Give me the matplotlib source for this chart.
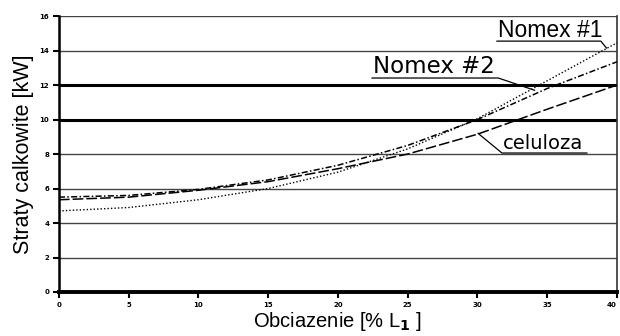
import matplotlib
matplotlib.use("Agg")
import matplotlib.pyplot as plt
import numpy as np

# load [% L1] and total losses [kW]
LOAD     = [0, 5, 10, 15, 20, 25, 30, 35, 40]
NOMEX_1  = [4.7, 4.9, 5.35, 6.0, 6.95, 8.3, 10.05, 12.25, 14.45]
NOMEX_2  = [5.5, 5.6, 5.95, 6.5, 7.35, 8.5, 10.0, 11.8, 13.35]
CELULOZA = [5.35, 5.5, 5.9, 6.4, 7.15, 8.0, 9.15, 10.6, 12.0]

X_TICKS = [0, 5, 10, 15, 20, 25, 30, 35, 40]
Y_TICKS = [0, 2, 4, 6, 8, 10, 12, 14, 16]
THICK_GRID = [10, 12]

FONT = ["Liberation Sans", "DejaVu Sans"]

fig = plt.figure(figsize=(6.2, 3.36), dpi=100)
ax = fig.add_axes([0.095, 0.131, 0.9, 0.821])

for y in Y_TICKS[1:]:
    lw = 2.2 if y in THICK_GRID else 1.0
    col = "black" if y in THICK_GRID else "#444444"
    ax.axhline(y, color=col, linewidth=lw, zorder=1)

ax.plot(LOAD, NOMEX_1, color="black", linewidth=1.0, linestyle=(0, (1, 1.5)), zorder=3)
ax.plot(LOAD, NOMEX_2, color="black", linewidth=1.1, linestyle=(0, (4, 1.5, 1, 1.5)), zorder=3)
ax.plot(LOAD, CELULOZA, color="black", linewidth=1.1, linestyle=(0, (7, 2)), zorder=3)

# labels: text, underline, leader line to the curve
ax.text(31.45, 14.78, "Nomex #1", fontsize=16.5, family=FONT, ha="left", va="baseline",
        bbox=dict(facecolor="white", edgecolor="none", pad=1.0), zorder=5)
ax.plot([31.4, 38.85, 39.25], [14.55, 14.55, 14.15], color="black", linewidth=0.9, zorder=6)

ax.text(22.5, 12.7, "Nomex #2", fontsize=16.5, family=["DejaVu Sans"], ha="left", va="baseline",
        zorder=5)
ax.plot([22.45, 31.5, 34.1], [12.41, 12.41, 11.7], color="black", linewidth=0.9, zorder=6)

ax.text(31.8, 8.29, "celuloza", fontsize=14, family=["DejaVu Sans"], ha="left", va="baseline",
        zorder=5)
ax.plot([37.85, 31.76, 30.05], [8.06, 8.06, 9.2], color="black", linewidth=0.9, zorder=6)

ax.set_xlim(0, 40)
ax.set_ylim(0, 16)
ax.set_xticks(X_TICKS)
ax.set_yticks(Y_TICKS)
ax.set_xticklabels([str(v) for v in X_TICKS], fontsize=5, fontweight="bold")
ax.set_yticklabels([str(v) for v in Y_TICKS], fontsize=5, fontweight="bold")
ax.get_xticklabels()[-1].set_horizontalalignment("right")
ax.tick_params(axis="both", direction="out", length=4, width=1.5, pad=3, colors="black")

ax.spines["top"].set_visible(False)
ax.spines["left"].set_linewidth(1.8)
ax.spines["bottom"].set_linewidth(2.8)
ax.spines["right"].set_linewidth(1.2)
ax.spines["right"].set_color("#333333")

ax.set_xlabel("Obciazenie [% L$_\\mathbf{1}$ ]", fontsize=14.5, family=FONT, labelpad=2)
ax.set_ylabel("Straty calkowite [kW]", fontsize=15.5, family=FONT, labelpad=4)

fig.savefig("out.png", dpi=100, facecolor="white")
